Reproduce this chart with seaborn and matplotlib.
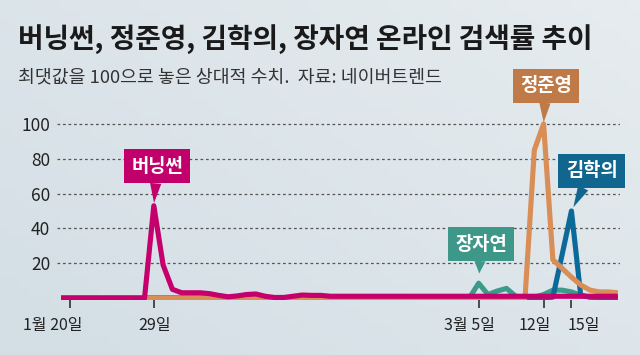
import numpy as np
import pandas as pd
import seaborn as sns
import matplotlib.pyplot as plt
import matplotlib.dates as mdates
from matplotlib.transforms import ScaledTranslation

# daily values, 2019-01-19 .. 2019-03-20 (61 days)
dates = pd.date_range("2019-01-19", "2019-03-20", freq="D")

burning_sun = [0, 0, 0, 0, 0, 0, 0, 0, 0, 0,
               53, 19, 5, 3, 3, 3, 2.5, 1.5, 0.7, 1.2,
               2, 2.3, 1, 0.3, 0.3, 1, 1.7, 1.5, 1.5, 1,
               1, 1, 1, 1, 1, 1, 1, 1, 1, 1,
               1, 1, 1, 1, 1, 1, 1, 1, 1, 1,
               1, 1, 1, 1, 1, 1, 1, 1, 1, 1, 1]
jung_joonyoung = [0, 0, 0, 0, 0, 0, 0, 0, 0, 0,
                  0, 0, 0, 0, 0, 0, 0, 0, 0, 0,
                  0, 0, 0, 0, 0, 0, 0, 0, 0, 0,
                  0, 0, 0, 0, 0, 0, 0, 0, 0, 0,
                  0, 0, 0, 0, 0, 0, 0, 0, 0, 0,
                  0, 85, 100, 22, 17, 12, 7.5, 4.5, 3.5, 3.5, 3]
kim_hakui = [0, 0, 0, 0, 0, 0, 0, 0, 0, 0,
             0, 0, 0, 0, 0, 0, 0, 0, 0, 0,
             0, 0, 0, 0, 0, 0, 0, 0, 0, 0,
             0, 0, 0, 0, 0, 0, 0, 0, 0, 0,
             0, 0, 0, 0, 0, 0, 0, 0, 0, 0,
             0, 0, 0, 0.5, 25, 50, 1.5, 0.5, 0.3, 0.3, 0.3]
jang_jayeon = [0, 0, 0, 0, 0, 0, 0, 0, 0, 0,
               0, 0, 0, 0, 0, 0, 0, 0, 0, 0,
               0, 0, 0, 0, 0, 0, 0, 0, 0, 0,
               0, 0, 0, 0, 0, 0, 0, 0, 0, 0,
               0, 0, 0, 0, 0, 8.5, 2, 4, 5.5, 1,
               0, 0.5, 2, 4.5, 4.5, 3.5, 1.5, 0.5, 0.3, 0.3, 0.3]

names = ["장자연", "김학의", "정준영", "버닝썬"]   # drawing order
line_colors = {"버닝썬": "#C5006C", "정준영": "#D98E57",
               "김학의": "#0B6A9A", "장자연": "#3C9A8B"}
box_colors = {"버닝썬": "#C1006B", "정준영": "#BF7A48",
              "김학의": "#10668F", "장자연": "#3E988A"}

tick_dates = pd.to_datetime(["2019-01-20", "2019-01-29", "2019-03-05",
                             "2019-03-12", "2019-03-15"])
tick_labels = ["1월 20일", "29일", "3월 5일", "12일", "15일"]
tick_shift = [-18, 1, -9, -9, 12]   # px, labels sit off-centre like the original
y_ticks = [20, 40, 60, 80, 100]

df = pd.DataFrame({
    "date": np.tile(dates, 4),
    "name": np.repeat(["버닝썬", "정준영", "김학의", "장자연"], len(dates)),
    "value": burning_sun + jung_joonyoung + kim_hakui + jang_jayeon,
})

sns.set_style("white")
plt.rcParams['font.family'] = ['Noto Sans CJK KR', 'DejaVu Sans']

bg = "#DCE5EA"
fig = plt.figure(figsize=(6.4, 3.55), dpi=100, facecolor=bg)

# soft background gradient
bg_ax = fig.add_axes([0, 0, 1, 1], zorder=-5)
gx, gy = np.meshgrid(np.linspace(0, 1, 64), np.linspace(0, 1, 36))
grad = 0.55 * gx + 0.45 * (1 - gy)
bg_ax.imshow(grad, cmap=sns.blend_palette(["#D3DEE5", "#E6ECEF"], as_cmap=True),
             aspect="auto", extent=[0, 1, 0, 1])
bg_ax.axis("off")

ax = fig.add_axes([57.3 / 640, 55 / 355, (619.7 - 57.3) / 640, 190 / 355])
ax.patch.set_alpha(0)

sns.lineplot(data=df, x="date", y="value", hue="name", hue_order=names,
             palette=line_colors, linewidth=3.7, legend=False, ax=ax,
             solid_capstyle="butt")

x0 = mdates.date2num(dates[0])
ax.set_xlim(x0 - 0.4, x0 + 60.2)
ax.set_ylim(-1.15, 108)

ax.set_yticks(y_ticks)
ax.set_yticklabels([str(v) for v in y_ticks])
ax.yaxis.grid(True, color="#555555", linestyle=(0, (2.2, 2.2)), linewidth=0.9)
ax.xaxis.grid(False)
ax.set_axisbelow(True)

ax.set_xticks(mdates.date2num(tick_dates))
ax.set_xticklabels(tick_labels)
ax.tick_params(axis="x", length=6, width=1.1, color="#222222", pad=6,
               labelsize=11.5, labelcolor="#222222", bottom=True)
ax.tick_params(axis="y", length=0, pad=5, labelsize=12.5, labelcolor="#222222")
for lab, dx in zip(ax.get_xticklabels(), tick_shift):
    lab.set_transform(lab.get_transform() + ScaledTranslation(dx / 100, 0, fig.dpi_scale_trans))
for s in ax.spines.values():
    s.set_visible(False)
ax.set_xlabel("")
ax.set_ylabel("")

# callout boxes: (name, box centre day offset, box centre value, target idx, target value, gap)
callouts = [
    ("버닝썬", 10.35, 75.6, 10, 53, 2),
    ("정준영", 52.26, 121.8, 52, 100, 1),
    ("김학의", 57.2, 73.0, 55, 50, 3),
    ("장자연", 45.26, 31.0, 45, 8.5, 7),
]
for name, bx, by, ti, tv, gap in callouts:
    ax.annotate(name, xy=(x0 + ti, tv), xytext=(x0 + bx, by),
                ha="center", va="center", fontsize=13.5, fontweight="bold",
                color="white", annotation_clip=False,
                bbox=dict(boxstyle="square,pad=0.4", fc=box_colors[name], ec="none"),
                arrowprops=dict(arrowstyle="wedge,tail_width=0.6,shrink_factor=0.5",
                                fc=box_colors[name], ec="none",
                                shrinkA=0, shrinkB=gap),
                zorder=6)

fig.text(18 / 640, 1 - 39 / 355, "버닝썬, 정준영, 김학의, 장자연 온라인 검색률 추이",
         fontsize=20, fontweight="bold", color="#1a1a1a", va="center", ha="left")
fig.text(18 / 640, 1 - 77 / 355, "최댓값을 100으로 놓은 상대적 수치.  자료: 네이버트렌드",
         fontsize=13.2, color="#333333", va="center", ha="left")

fig.savefig("out.png", dpi=100, facecolor=fig.get_facecolor())
